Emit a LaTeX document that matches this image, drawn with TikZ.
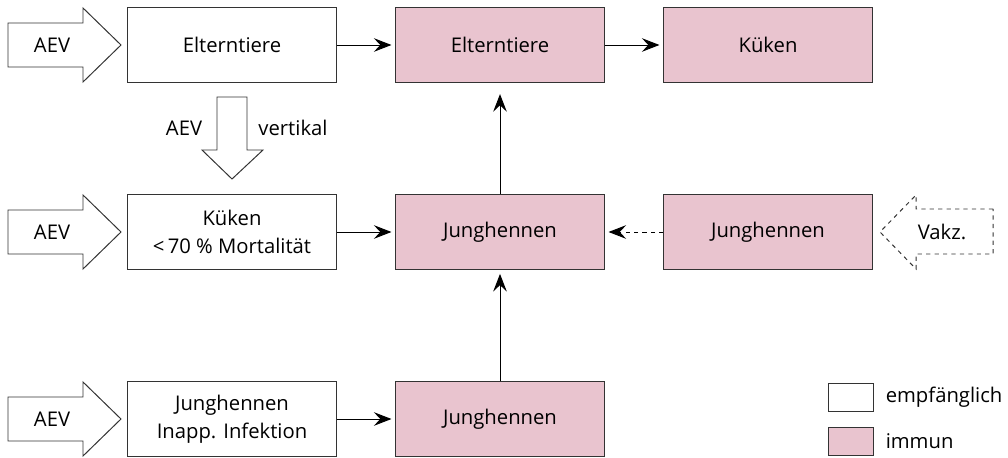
\documentclass[tikz,border=0pt]{standalone}
\usepackage{fontspec}
\setmainfont{Open Sans}
\usepackage{xcolor}
\definecolor{ImmunPink}{HTML}{E9C4CF}
\definecolor{LineGray}{HTML}{333333}
\usepackage{tikz}
\usetikzlibrary{arrows.meta,positioning}
\tikzset{
  hostbox/.style={
    draw=LineGray,
    line width=0.7pt,
    minimum width=5.2cm,
    minimum height=1.87cm,
    align=center,
    inner sep=0pt,
    font=\fontsize{14.4}{20}\selectfont
  },
  suscbox/.style={hostbox, fill=white},
  immunbox/.style={hostbox, fill=ImmunPink},
  infarrow/.style={
    draw=LineGray,
    line width=0.7pt,
    fill=white,
    line join=miter
  },
  arrowtext/.style={
    inner sep=0pt,
    font=\fontsize{14.4}{20}\selectfont
  },
  flowline/.style={
    draw=black,
    line width=0.7pt,
    -{Stealth[length=4.4mm,width=3.4mm,inset=1.6mm]},
    shorten >=1mm
  }
}

\begin{document}
\begin{tikzpicture}[x=0.025cm,y=-0.025cm]
  \useasboundingbox (0,0) rectangle (1008,458);
  % host groups
  \node[suscbox] (eltS) at (232,45) {Elterntiere};
  \node[immunbox] (eltI) at (500,45) {Elterntiere};
  \node[immunbox] (kukI) at (768,45) {Küken};
  \node[suscbox] (kukS) at (232,232) {Küken\\<\,70 \% Mortalität};
  \node[immunbox] (jungI) at (500,232) {Junghennen};
  \node[immunbox] (jungV) at (768,232) {Junghennen};
  \node[suscbox] (jungS) at (232,419) {Junghennen\\Inapp. Infektion};
  \node[immunbox] (jungL) at (500,419) {Junghennen};
  % AEV input arrows
  \foreach \yy/\nm in {45/aevA,232/aevB,419/aevC}{
    \draw[infarrow] (8,\yy-22) -- (83,\yy-22) -- (83,\yy-37) -- (121,\yy) -- (83,\yy+37) -- (83,\yy+22) -- (8,\yy+22) -- cycle;
    \node[arrowtext] (\nm) at (52,\yy) {AEV};
  }
  % vertical transmission
  \draw[infarrow] (217,97) -- (247,97) -- (247,150) -- (263,150) -- (232,179) -- (202,150) -- (217,150) -- cycle;
  \node[arrowtext] (aevV) at (184,128) {AEV};
  \node[arrowtext] (vert) at (293,128) {vertikal};
  % vaccination
  \draw[infarrow, dashed] (993,209) -- (916,209) -- (916,195) -- (880,232) -- (916,269) -- (916,254) -- (993,254) -- cycle;
  \node[arrowtext] (vakz) at (942,232) {Vakz.};
  % connectors
  \draw[flowline] (eltS) -- (eltI);
  \draw[flowline] (eltI) -- (kukI);
  \draw[flowline] (kukS) -- (jungI);
  \draw[flowline, dashed] (jungV) -- (jungI);
  \draw[flowline] (jungS) -- (jungL);
  \draw[flowline] (jungL) -- (jungI);
  \draw[flowline, shorten >=2.8mm] (jungI) -- (eltI);
  % legend
  \node[suscbox, minimum width=1.125cm, minimum height=0.7cm] (legS) at (850.5,397) {};
  \node[immunbox, minimum width=1.125cm, minimum height=0.7cm] (legI) at (850.5,441) {};
  \node[arrowtext, right=0.3cm of legS] (legStext) {empfänglich};
  \node[arrowtext, right=0.3cm of legI] (legItext) {immun};
\end{tikzpicture}
\end{document}
